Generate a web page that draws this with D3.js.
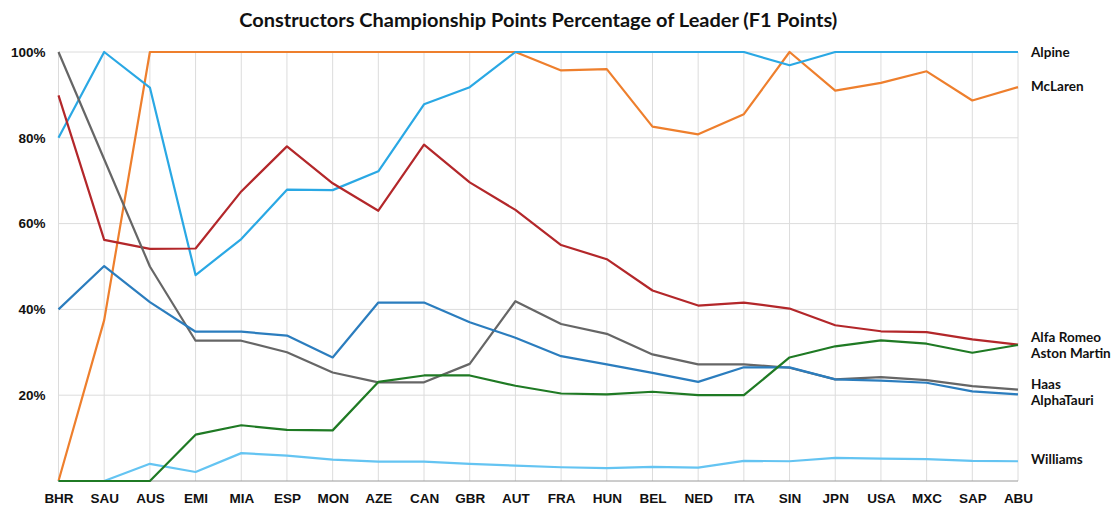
<!DOCTYPE html>
<html lang="en">
<head>
    <meta charset="UTF-8">
    <title>Constructors Championship Points Percentage of Leader</title>
    <script src="https://d3js.org/d3.v7.min.js"></script>
    <style>
        body { margin: 0; background: #fff; }
        svg { font-family: Lato, "Open Sans", sans-serif; }
        .grid line { stroke: #dcdcdc; stroke-width: 1px; }
        .axis text { font-size: 13.5px; font-weight: bold; fill: #111; }
        .axis path, .axis line { display: none; }
        .title { font-size: 19px; font-weight: bold; fill: #111; }
        .series-label { font-size: 13.5px; font-weight: bold; fill: #111; }
    </style>
</head>
<body>
<svg></svg>
<script>
    // race abbreviations along the x axis
    var races = ["BHR", "SAU", "AUS", "EMI", "MIA", "ESP", "MON", "AZE", "CAN", "GBR", "AUT",
                 "FRA", "HUN", "BEL", "NED", "ITA", "SIN", "JPN", "USA", "MXC", "SAP", "ABU"];
    var yTicks = [20, 40, 60, 80, 100];

    // percentage of leader's points
    var mclaren     = [0, 37.5, 100, 100, 100, 100, 100, 100, 100, 100, 100, 95.7, 96.0, 82.6, 80.8, 85.5, 100, 91.0, 92.8, 95.5, 88.7, 91.8];
    var alpine      = [80, 100, 91.7, 48.0, 56.4, 67.9, 67.8, 72.2, 87.8, 91.8, 100, 100, 100, 100, 100, 100, 96.9, 100, 100, 100, 100, 100];
    var alfaRomeo   = [89.9, 56.2, 54.1, 54.2, 67.5, 78.0, 69.4, 63.0, 78.4, 69.6, 63.2, 55.0, 51.7, 44.4, 40.9, 41.6, 40.2, 36.3, 34.9, 34.7, 33.0, 31.8];
    var haas        = [100, 75, 50.0, 32.7, 32.7, 30.0, 25.3, 23.0, 23.0, 27.3, 41.9, 36.6, 34.3, 29.5, 27.2, 27.2, 26.4, 23.7, 24.2, 23.5, 22.1, 21.3];
    var alphaTauri  = [40, 50.1, 41.7, 34.8, 34.8, 33.9, 28.8, 41.6, 41.6, 37.0, 33.4, 29.1, 27.2, 25.2, 23.1, 26.5, 26.5, 23.7, 23.4, 22.9, 20.9, 20.2];
    var williams    = [0, 0, 4.0, 2.1, 6.5, 5.9, 5.0, 4.5, 4.5, 4.0, 3.6, 3.2, 3.0, 3.3, 3.1, 4.7, 4.6, 5.4, 5.2, 5.1, 4.7, 4.6];
    var astonMartin = [0, 0, 0, 10.8, 13.0, 11.9, 11.8, 23.1, 24.6, 24.6, 22.2, 20.4, 20.2, 20.8, 20.0, 20.0, 28.8, 31.4, 32.8, 32.0, 29.9, 31.7];

    // drawing order (later lines sit on top)
    var series = [
        {name: "McLaren", values: mclaren, color: "#ee7f2d"},
        {name: "Alpine", values: alpine, color: "#2aa8e4"},
        {name: "Alfa Romeo", values: alfaRomeo, color: "#b3272a"},
        {name: "Haas", values: haas, color: "#666666"},
        {name: "AlphaTauri", values: alphaTauri, color: "#2b7dbe"},
        {name: "Williams", values: williams, color: "#64c4f2"},
        {name: "Aston Martin", values: astonMartin, color: "#1f7a24"}
    ];

    // right-hand labels: value the label block is centred on, and its names
    var labelGroups = [
        {names: ["Alpine"], at: 100},
        {names: ["McLaren"], at: 92},
        {names: ["Alfa Romeo", "Aston Martin"], at: 31.7},
        {names: ["Haas", "AlphaTauri"], at: 20.6},
        {names: ["Williams"], at: 5.1}
    ];
    var labelGap = 16;

    var width = 1116, height = 506;
    var margin = {top: 52, right: 98, bottom: 25, left: 58.5};

    var svg = d3.select("svg").attr("width", width).attr("height", height);

    var x = d3.scalePoint()
        .domain(races)
        .range([margin.left, width - margin.right]);

    var y = d3.scaleLinear()
        .domain([0, 100])
        .range([height - margin.bottom, margin.top]);

    // grid
    var grid = svg.append("g").attr("class", "grid");
    grid.selectAll(".v")
        .data(races)
        .enter()
        .append("line")
        .attr("x1", function (d) { return x(d); })
        .attr("x2", function (d) { return x(d); })
        .attr("y1", y(0))
        .attr("y2", y(100));
    grid.selectAll(".h")
        .data(yTicks)
        .enter()
        .append("line")
        .attr("x1", x.range()[0])
        .attr("x2", x.range()[1])
        .attr("y1", function (d) { return y(d); })
        .attr("y2", function (d) { return y(d); });

    // base line at 0%
    svg.append("line")
        .attr("x1", x.range()[0])
        .attr("x2", x.range()[1])
        .attr("y1", y(0))
        .attr("y2", y(0))
        .style("stroke", "#9a9a9a")
        .style("stroke-width", 1);

    // axes
    svg.append("g")
        .attr("class", "axis")
        .attr("transform", "translate(0," + (y(0) + 7) + ")")
        .call(d3.axisBottom(x).tickSize(0).tickPadding(5));

    svg.append("g")
        .attr("class", "axis")
        .attr("transform", "translate(" + (margin.left - 12) + ",0)")
        .call(d3.axisLeft(y).tickValues(yTicks).tickSize(0).tickPadding(1)
            .tickFormat(function (d) { return d + "%"; }));

    // lines
    var line = d3.line()
        .x(function (d, i) { return x(races[i]); })
        .y(function (d) { return y(d); });

    svg.selectAll(".series")
        .data(series)
        .enter()
        .append("path")
        .attr("class", "series")
        .attr("d", function (d) { return line(d.values); })
        .style("fill", "none")
        .style("stroke", function (d) { return d.color; })
        .style("stroke-width", 2.2)
        .style("stroke-linejoin", "round");

    // direct labels on the right, stacked around each group's value
    var flatLabels = [];
    labelGroups.forEach(function (g) {
        g.names.forEach(function (n, i) {
            flatLabels.push({name: n, y: y(g.at) + (i - (g.names.length - 1) / 2) * labelGap});
        });
    });

    svg.selectAll(".series-label")
        .data(flatLabels)
        .enter()
        .append("text")
        .attr("class", "series-label")
        .attr("x", x.range()[1] + 13)
        .attr("y", function (d) { return d.y; })
        .attr("dy", "0.35em")
        .text(function (d) { return d.name; });

    // title
    svg.append("text")
        .attr("class", "title")
        .attr("x", (x.range()[0] + x.range()[1]) / 2)
        .attr("y", 20)
        .attr("dy", "0.35em")
        .attr("text-anchor", "middle")
        .attr("textLength", 598)
        .attr("lengthAdjust", "spacingAndGlyphs")
        .text("Constructors Championship Points Percentage of Leader (F1 Points)");
</script>
</body>
</html>
